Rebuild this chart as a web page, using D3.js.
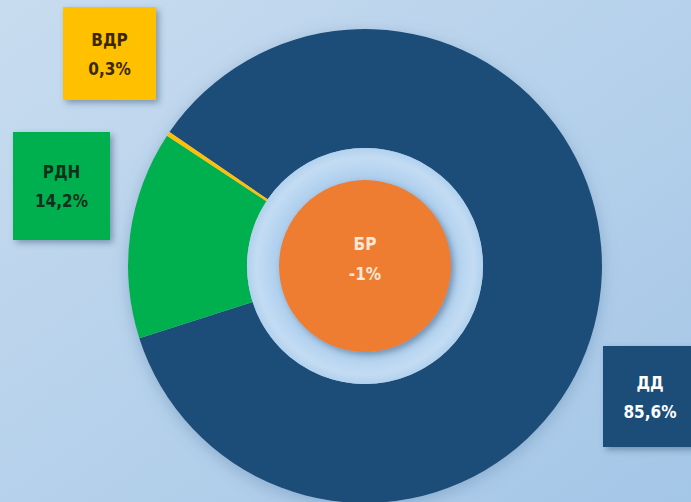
<!DOCTYPE html>
<html>
<head>
<meta charset="utf-8">
<script src="https://cdn.jsdelivr.net/npm/d3@7"></script>
<style>
  html, body { margin: 0; padding: 0; }
  svg { display: block; }
  text { font-family: "DejaVu Sans Condensed", "DejaVu Sans", sans-serif; font-weight: bold; }
</style>
</head>
<body>
<script>
var categories = ['ДД', 'РДН', 'ВДР'];
var shares = [85.6, 14.2, 0.3];
var labels = ['85,6%', '14,2%', '0,3%'];
var centerName = 'БР';
var centerValue = '-1%';

var W = 691, H = 502;
var cx = 365, cy = 266, rOuter = 237, rInner = 118, rCore = 86;

var colour = d3.scaleOrdinal().domain(categories).range(['#1f4e79', '#00b050', '#ffc000']);
var textColour = d3.scaleOrdinal().domain(categories).range(['#ffffff', '#10301c', '#3a2800']);

var svg = d3.select('body').append('svg').attr('width', W).attr('height', H);
var defs = svg.append('defs');

var bg = defs.append('linearGradient').attr('id', 'bg')
  .attr('x1', 0).attr('y1', 0).attr('x2', 1).attr('y2', 1);
bg.append('stop').attr('offset', 0).attr('stop-color', '#c8dcef');
bg.append('stop').attr('offset', 1).attr('stop-color', '#a4c6e7');

var hole = defs.append('radialGradient').attr('id', 'hole');
hole.append('stop').attr('offset', 0.7).attr('stop-color', '#a9cbec');
hole.append('stop').attr('offset', 0.92).attr('stop-color', '#c3dcf3');
hole.append('stop').attr('offset', 1).attr('stop-color', '#b2d1ee');

var sh = defs.append('filter').attr('id', 'shadow')
  .attr('x', '-20%').attr('y', '-20%').attr('width', '140%').attr('height', '140%');
sh.append('feDropShadow').attr('dx', 3).attr('dy', 3).attr('stdDeviation', 3)
  .attr('flood-color', '#2a4a6a').attr('flood-opacity', 0.45);

var glow = defs.append('filter').attr('id', 'glow')
  .attr('x', '-20%').attr('y', '-20%').attr('width', '140%').attr('height', '140%');
glow.append('feDropShadow').attr('dx', 0).attr('dy', 4).attr('stdDeviation', 8)
  .attr('flood-color', '#5f86ad').attr('flood-opacity', 0.45);

svg.append('rect').attr('width', W).attr('height', H).attr('fill', 'url(#bg)');

// donut
var start = -55.6 * Math.PI / 180;
var pie = d3.pie().sort(null).startAngle(start).endAngle(start + 2 * Math.PI);
var arc = d3.arc().innerRadius(rInner).outerRadius(rOuter);
var slices = pie(shares).map(function(d, i) { d.cat = categories[i]; return d; });

var g = svg.append('g').attr('transform', 'translate(' + cx + ',' + cy + ')');
var ring = g.append('g').attr('filter', 'url(#glow)');
ring.selectAll('path').data(slices).enter().append('path')
  .attr('d', arc)
  .attr('fill', function(d) { return colour(d.cat); });

g.append('circle').attr('r', rInner).attr('fill', 'url(#hole)');
g.append('circle').attr('r', rCore).attr('fill', '#ee7d31').attr('filter', 'url(#shadow)');
g.append('text').attr('y', -22).attr('text-anchor', 'middle').attr('dominant-baseline', 'central')
  .attr('font-size', 17).attr('fill', '#fce8d8').text(centerName);
g.append('text').attr('y', 8).attr('text-anchor', 'middle').attr('dominant-baseline', 'central')
  .attr('font-size', 17).attr('fill', '#fce8d8').text(centerValue);

// label boxes
var boxes = [
  { x: 603, y: 346, w: 92, h: 101 },
  { x: 13, y: 132, w: 97, h: 108 },
  { x: 63, y: 7, w: 93, h: 93 }
];
var lab = svg.selectAll('g.lab').data(slices).enter().append('g').attr('class', 'lab')
  .attr('transform', function(d, i) { return 'translate(' + boxes[i].x + ',' + boxes[i].y + ')'; });
lab.append('rect')
  .attr('width', function(d, i) { return boxes[i].w; })
  .attr('height', function(d, i) { return boxes[i].h; })
  .attr('fill', function(d) { return colour(d.cat); })
  .attr('filter', 'url(#shadow)');
lab.append('text')
  .attr('x', function(d, i) { return i === 0 ? 47 : boxes[i].w / 2; })
  .attr('y', function(d, i) { return boxes[i].h / 2 - 14; })
  .attr('text-anchor', 'middle').attr('dominant-baseline', 'central')
  .attr('font-size', 17).attr('fill', function(d) { return textColour(d.cat); })
  .text(function(d) { return d.cat; });
lab.append('text')
  .attr('x', function(d, i) { return i === 0 ? 47 : boxes[i].w / 2; })
  .attr('y', function(d, i) { return boxes[i].h / 2 + 15; })
  .attr('text-anchor', 'middle').attr('dominant-baseline', 'central')
  .attr('font-size', 17).attr('fill', function(d) { return textColour(d.cat); })
  .text(function(d, i) { return labels[i]; });
</script>
</body>
</html>
